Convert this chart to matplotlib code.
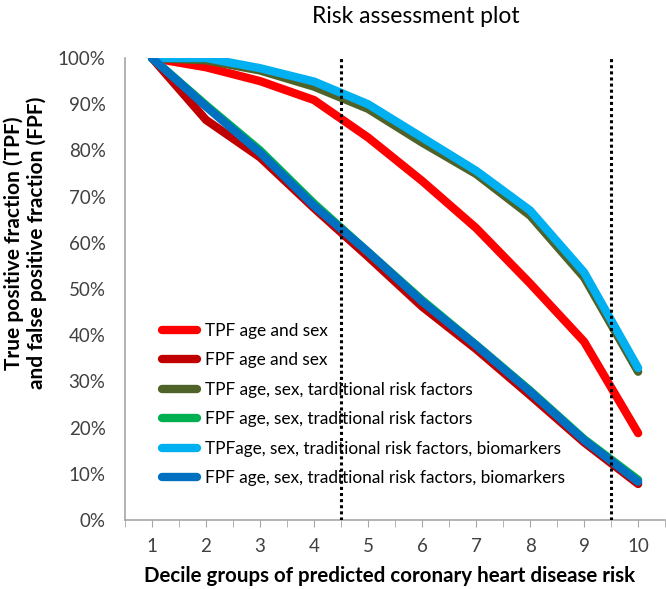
import numpy as np
import matplotlib.pyplot as plt
from matplotlib.ticker import PercentFormatter, MultipleLocator

plt.rcParams['font.family'] = ['Lato', 'DejaVu Sans']

# 数据
deciles = [1, 2, 3, 4, 5, 6, 7, 8, 9, 10]
tpf_age_sex = [100, 98.0, 95.0, 90.9, 82.8, 73.4, 63.2, 51.2, 38.6, 18.8]
fpf_age_sex = [100, 86.6, 78.5, 67.5, 57.0, 46.2, 37.0, 27.0, 16.8, 7.8]
tpf_trad = [100, 99.5, 97.3, 93.8, 89.0, 81.7, 74.9, 65.9, 52.5, 32.1]
fpf_trad = [100, 89.8, 80.0, 68.5, 58.0, 47.6, 37.9, 28.0, 17.5, 8.7]
tpf_bio = [100, 100, 97.8, 94.9, 90.0, 82.8, 75.6, 67.0, 53.6, 32.9]
fpf_bio = [100, 89.5, 79.5, 68.0, 58.0, 47.3, 37.8, 27.8, 17.3, 8.3]
cutoffs = [4.5, 9.5]

series = [
    (tpf_age_sex, '#FF0000', 'TPF age and sex'),
    (fpf_age_sex, '#C00000', 'FPF age and sex'),
    (tpf_trad, '#4F6228', 'TPF age, sex, tarditional risk factors'),
    (fpf_trad, '#00B050', 'FPF age, sex, traditional risk factors'),
    (tpf_bio, '#00B0F0', 'TPFage, sex, traditional risk factors, biomarkers'),
    (fpf_bio, '#0070C0', 'FPF age, sex, traditional risk factors, biomarkers'),
]

fig = plt.figure(figsize=(6.66, 5.89), dpi=100)
ax = fig.add_axes([0.1877, 0.1171, 0.811, 0.7844])

for vals, col, lab in series:
    ax.plot(deciles, np.array(vals) / 100, color=col, lw=6,
            solid_capstyle='round', label=lab)

for c in cutoffs:
    ax.axvline(c, color='black', linestyle=(0, (1, 1)), lw=2.2, zorder=5)

ax.set_xlim(0.5, 10.5)
ax.set_ylim(0, 1)
ax.yaxis.set_major_locator(MultipleLocator(0.1))
ax.yaxis.set_major_formatter(PercentFormatter(1.0, decimals=0))
ax.set_xticks(deciles)
ax.xaxis.set_minor_locator(MultipleLocator(0.5))

for s in ['top', 'right']:
    ax.spines[s].set_visible(False)
for s in ['left', 'bottom']:
    ax.spines[s].set_color('#A6A6A6')
    ax.spines[s].set_linewidth(1.2)
ax.tick_params(axis='y', length=0, labelsize=13.5, colors='#404040', pad=14)
ax.tick_params(axis='x', which='both', length=5, color='#A6A6A6', labelsize=13.5,
               labelcolor='#404040', pad=8)

ax.set_xlabel('Decile groups of predicted coronary heart disease risk',
              fontsize=14.8, fontweight='bold')
ax.xaxis.set_label_coords(0.489, -0.1)
ax.set_ylabel('True positive fraction (TPF)\nand false positive fraction (FPF)',
              fontsize=15, fontweight='bold', linespacing=1.1)
ax.yaxis.set_label_coords(-0.145, 0.6)
fig.text(0.625, 0.972, 'Risk assessment plot', fontsize=16.5,
         ha='center', va='center')

leg = ax.legend(loc='lower left', bbox_to_anchor=(0.04, 0.04), frameon=False,
                fontsize=12.4, handlelength=2.0, labelspacing=0.78,
                handletextpad=0.5)
for h in leg.get_lines():
    h.set_linewidth(6)
    h.set_solid_capstyle('round')

plt.savefig('out.png', dpi=100)
